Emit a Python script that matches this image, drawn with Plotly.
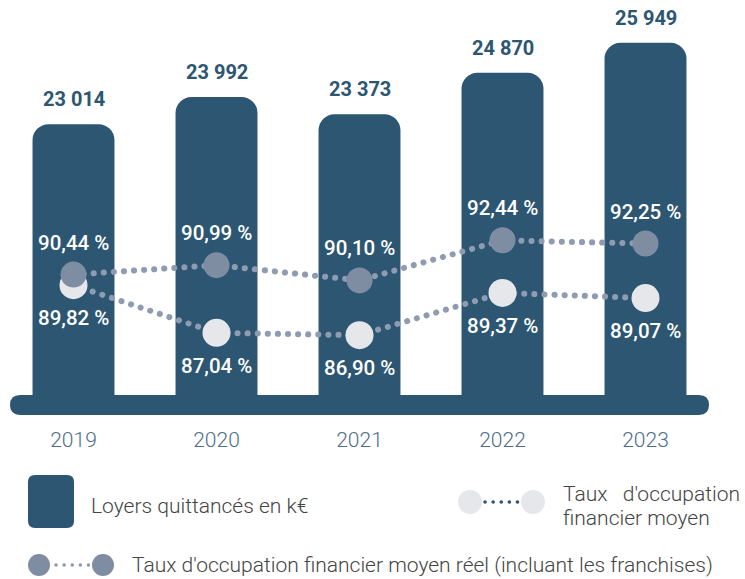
import plotly.graph_objects as go

# ---- data ----
years = ["2019", "2020", "2021", "2022", "2023"]
loyers = [23014, 23992, 23373, 24870, 25949]
loyers_labels = ["23 014", "23 992", "23 373", "24 870", "25 949"]
taux_moyen = [89.82, 87.04, 86.90, 89.37, 89.07]
taux_moyen_labels = ["89,82 %", "87,04 %", "86,90 %", "89,37 %", "89,07 %"]
taux_reel = [90.44, 90.99, 90.10, 92.44, 92.25]
taux_reel_labels = ["90,44 %", "90,99 %", "90,10 %", "92,44 %", "92,25 %"]

# ---- style ----
BAR = "#2c5672"
LIGHT = "#e6e7ea"
DARK = "#7f8da3"
DOTS = "#8e9bb0"
FONT = "Roboto"

W, H = 745, 579
ML, MR, MT, MB = 2, 28, 20, 184
PW = W - ML - MR
PH = H - MT - MB


def px(x):
    return (x - ML) / PW


def py(y):
    return (H - MB - y) / PH


def rrect(x0, y0, x1, y1, r):
    pts = [
        ("M", [(x0 + r, y0)]),
        ("L", [(x1 - r, y0)]),
        ("Q", [(x1, y0), (x1, y0 + r)]),
        ("L", [(x1, y1 - r)]),
        ("Q", [(x1, y1), (x1 - r, y1)]),
        ("L", [(x0 + r, y1)]),
        ("Q", [(x0, y1), (x0, y1 - r)]),
        ("L", [(x0, y0 + r)]),
        ("Q", [(x0, y0), (x0 + r, y0)]),
    ]
    s = ""
    for cmd, ps in pts:
        s += cmd + " ".join(f"{px(a):.5f},{py(b):.5f}" for a, b in ps)
    return s + " Z"


fig = go.Figure()

fig.add_trace(go.Bar(
    x=years, y=loyers, marker=dict(color=BAR, line=dict(width=0)),
    name="Loyers quittancés en k€", showlegend=False, hoverinfo="skip",
))

fig.add_trace(go.Scatter(
    x=years, y=taux_moyen, yaxis="y2", mode="lines+markers",
    line=dict(color=DOTS, width=6, dash="5px,5px"),
    marker=dict(color=LIGHT, size=28, line=dict(width=0)),
    name="Taux d'occupation financier moyen", showlegend=False, hoverinfo="skip",
))

fig.add_trace(go.Scatter(
    x=years, y=taux_reel, yaxis="y2", mode="lines+markers",
    line=dict(color=DOTS, width=6, dash="5px,5px"),
    marker=dict(color=DARK, size=26, line=dict(width=0)),
    name="Taux d'occupation financier moyen réel", showlegend=False, hoverinfo="skip",
))

annotations = []
for i, (v, t) in enumerate(zip(loyers, loyers_labels)):
    annotations.append(dict(x=i, y=v, xref="x", yref="y", text=t, showarrow=False,
                            yanchor="middle", yshift=25,
                            font=dict(family=FONT, size=20, color=BAR, weight=700)))
for i, (v, t) in enumerate(zip(taux_reel, taux_reel_labels)):
    annotations.append(dict(x=i, y=v, xref="x", yref="y2", text=t, showarrow=False,
                            yanchor="middle", yshift=32,
                            font=dict(family=FONT, size=20.5, color="white", weight=500)))
for i, (v, t) in enumerate(zip(taux_moyen, taux_moyen_labels)):
    annotations.append(dict(x=i, y=v, xref="x", yref="y2", text=t, showarrow=False,
                            yanchor="middle", yshift=-33,
                            font=dict(family=FONT, size=20.5, color="white", weight=500)))

legend_font = dict(family=FONT, size=21, color="#444444", weight=300)
annotations += [
    dict(x=px(89), y=py(506), xref="paper", yref="paper", xanchor="left", yanchor="middle",
         text="Loyers quittancés en k€", showarrow=False, font=legend_font),
    dict(x=px(561), y=py(494), xref="paper", yref="paper", xanchor="left", yanchor="middle",
         text="Taux\u00a0\u00a0\u00a0d'occupation", showarrow=False, font=legend_font),
    dict(x=px(561), y=py(518), xref="paper", yref="paper", xanchor="left", yanchor="middle",
         text="financier moyen", showarrow=False, font=legend_font),
    dict(x=px(130), y=py(565), xref="paper", yref="paper", xanchor="left", yanchor="middle",
         text="Taux d'occupation financier moyen réel (incluant les franchises)",
         showarrow=False, font=legend_font),
]

shapes = [
    # baseline pill
    dict(type="path", xref="paper", yref="paper", path=rrect(10, 395, 709, 415, 10),
         fillcolor=BAR, line=dict(width=0), layer="above"),
    # legend: bar swatch
    dict(type="path", xref="paper", yref="paper", path=rrect(28, 475, 74, 528, 7),
         fillcolor=BAR, line=dict(width=0)),
    # legend: light series
    dict(type="line", xref="paper", yref="paper", x0=px(485), x1=px(519), y0=py(502), y1=py(502),
         line=dict(color=BAR, width=3.5, dash="3px,5px")),
    dict(type="circle", xref="paper", yref="paper", x0=px(458), x1=px(482), y0=py(490), y1=py(514),
         fillcolor=LIGHT, line=dict(width=0)),
    dict(type="circle", xref="paper", yref="paper", x0=px(521), x1=px(545), y0=py(490), y1=py(514),
         fillcolor=LIGHT, line=dict(width=0)),
    # legend: dark series
    dict(type="line", xref="paper", yref="paper", x0=px(56), x1=px(90), y0=py(565), y1=py(565),
         line=dict(color=DOTS, width=3.5, dash="3px,5px")),
    dict(type="circle", xref="paper", yref="paper", x0=px(28), x1=px(50), y0=py(554), y1=py(576),
         fillcolor=DARK, line=dict(width=0)),
    dict(type="circle", xref="paper", yref="paper", x0=px(92), x1=px(114), y0=py(554), y1=py(576),
         fillcolor=DARK, line=dict(width=0)),
]

fig.update_layout(
    width=W, height=H,
    margin=dict(l=ML, r=MR, t=MT, b=MB, pad=0, autoexpand=False),
    paper_bgcolor="white", plot_bgcolor="white",
    bargap=0.427, barcornerradius=16,
    showlegend=False,
    xaxis=dict(type="category", range=[-0.5, 4.5], autorange=False, showgrid=False,
               zeroline=False, showline=False, ticks="", ticklabelstandoff=30,
               tickfont=dict(family=FONT, size=21, color="#4e6d8a", weight=300)),
    yaxis=dict(range=[13240, 26773], autorange=False, visible=False, showgrid=False,
               zeroline=False),
    yaxis2=dict(range=[83.41, 105.30], autorange=False, overlaying="y", visible=False,
                showgrid=False, zeroline=False),
    annotations=annotations,
    shapes=shapes,
)

post = """
document.body.style.margin='0';
document.querySelectorAll('.scatterlayer .js-line').forEach(function(e){
  e.style.strokeLinecap='round'; e.style.strokeDasharray='0.1px,10px';
});
document.querySelectorAll('.shapelayer path').forEach(function(e){
  var d = e.style.strokeDasharray;
  if (d && d !== 'none' && d !== '') {
    e.style.strokeLinecap='round'; e.style.strokeDasharray='0.1px,8px';
  }
});
"""

fig.write_html("out.html", post_script=post, config={"displayModeBar": False})
